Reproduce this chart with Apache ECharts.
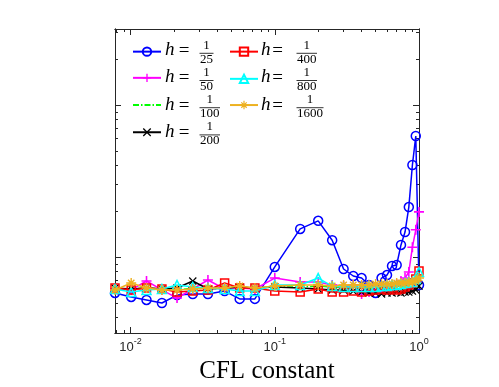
<!DOCTYPE html>
<html><head><meta charset="utf-8">
<script src="https://cdn.jsdelivr.net/npm/echarts@6/dist/echarts.min.js"></script>
<style>html,body{margin:0;padding:0;background:#fff}#c{width:499px;height:387px}</style>
</head><body><div id="c"></div>
<script>
// ---- data ----
const cfl = [0.0078, 0.0101, 0.0129, 0.0165, 0.021, 0.027, 0.0344, 0.0449, 0.0571, 0.0728, 0.1, 0.15, 0.2, 0.25, 0.3, 0.35, 0.4, 0.45, 0.5, 0.55, 0.6, 0.65, 0.7, 0.75, 0.8, 0.85, 0.9, 0.95, 1.0];
const h25 = [0.580, 0.546, 0.522, 0.498, 0.562, 0.571, 0.571, 0.597, 0.530, 0.530, 0.860, 1.53, 1.73, 1.29, 0.834, 0.750, 0.727, 0.654, 0.580, 0.727, 0.761, 0.873, 0.886, 1.20, 1.46, 2.13, 4.03, 6.25, 0.654];
const h50 = [0.616, 0.607, 0.695, 0.607, 0.537, 0.616, 0.706, 0.616, 0.625, 0.616, 0.727, 0.685, 0.685, 0.654, 0.644, 0.654, 0.571, 0.588, 0.607, 0.607, 0.616, 0.635, 0.664, 0.695, 0.727, 0.797, 1.16, 1.51, 1.98];
const h100 = [0.607, 0.616, 0.625, 0.616, 0.607, 0.625, 0.616, 0.625, 0.635, 0.625, 0.635, 0.635, 0.644, 0.635, 0.625, 0.625, 0.625, 0.616, 0.625, 0.625, 0.635, 0.635, 0.635, 0.644, 0.644, 0.654, 0.664, 0.675, 0.706];
const h200 = [0.625, 0.616, 0.625, 0.616, 0.625, 0.695, 0.616, 0.625, 0.635, 0.625, 0.635, 0.625, 0.616, 0.607, 0.607, 0.597, 0.588, 0.580, 0.580, 0.571, 0.580, 0.580, 0.588, 0.580, 0.588, 0.588, 0.597, 0.607, 0.644];
const h400 = [0.625, 0.607, 0.625, 0.616, 0.588, 0.597, 0.607, 0.675, 0.625, 0.625, 0.597, 0.588, 0.616, 0.588, 0.588, 0.597, 0.588, 0.597, 0.607, 0.616, 0.607, 0.625, 0.607, 0.616, 0.635, 0.654, 0.675, 0.717, 0.809];
const h800 = [0.616, 0.588, 0.607, 0.616, 0.654, 0.635, 0.625, 0.616, 0.597, 0.597, 0.654, 0.654, 0.727, 0.644, 0.635, 0.635, 0.635, 0.635, 0.635, 0.644, 0.644, 0.654, 0.654, 0.664, 0.675, 0.685, 0.685, 0.717, 0.797];
const h1600 = [0.607, 0.675, 0.625, 0.607, 0.607, 0.616, 0.625, 0.625, 0.644, 0.625, 0.644, 0.654, 0.654, 0.644, 0.654, 0.654, 0.654, 0.654, 0.664, 0.664, 0.664, 0.664, 0.675, 0.675, 0.675, 0.685, 0.685, 0.695, 0.727];
const denominators = ['25', '50', '100', '200', '400', '800', '1600'];
const xMajorTicks = [0.01, 0.1, 1];
const xMinorTicks = [0.008, 0.009, 0.02, 0.03, 0.04, 0.05, 0.06, 0.07, 0.08, 0.09, 0.2, 0.3, 0.4, 0.5, 0.6, 0.7, 0.8, 0.9];
const yMajorTicks = [1, 10];
const yMinorTicks = [0.4, 0.5, 0.6, 0.7, 0.8, 0.9, 2, 3, 4, 5, 6, 7, 8, 9, 20, 30];
const X_MIN = 0.0078, X_MAX = 1;
const Y_MIN = Math.pow(10, -0.5), Y_MAX = Math.pow(10, 1.5);

// ---- styles ----
const L10 = Math.log10;
const AX = '#262626';
const PLUS = 'path://M4.2,0 h1.6 v4.2 h4.2 v1.6 h-4.2 v4.2 h-1.6 v-4.2 h-4.2 v-1.6 h4.2 z';
const CROSS = 'path://M0,1.1 L1.1,0 L5,3.9 L8.9,0 L10,1.1 L6.1,5 L10,8.9 L8.9,10 L5,6.1 L1.1,10 L0,8.9 L3.9,5 Z';
const STAR = 'path://M4.3,0 h1.4 v4.3 h4.3 v1.4 h-4.3 v4.3 h-1.4 v-4.3 h-4.3 v-1.4 h4.3 z M1.3,2.3 L2.3,1.3 L5,4 L7.7,1.3 L8.7,2.3 L6,5 L8.7,7.7 L7.7,8.7 L5,6 L2.3,8.7 L1.3,7.7 L4,5 Z';
const TRANSP = 'rgba(0,0,0,0)';
const seriesDefs = [
  {data: h25, color: '#0000FF', symbol: 'circle', size: 9, hollow: true},
  {data: h50, color: '#FF00FF', symbol: PLUS, size: 10, hollow: false},
  {data: h100, color: '#00FF00', symbol: 'none', size: 0, hollow: false, dash: [6, 2, 1.5, 2]},
  {data: h200, color: '#000000', symbol: CROSS, size: 8, hollow: false},
  {data: h400, color: '#FF0000', symbol: 'rect', size: 8, hollow: true},
  {data: h800, color: '#00FFFF', symbol: 'triangle', size: 9, hollow: true},
  {data: h1600, color: '#EDB120', symbol: STAR, size: 10, hollow: false}
];
const names = denominators.map(d => 'h = 1/' + d);

const series = seriesDefs.map((s, i) => ({
  name: names[i], type: 'line', xAxisIndex: 0, yAxisIndex: 0,
  data: cfl.map((c, k) => [c, s.data[k]]),
  symbol: s.symbol, symbolSize: s.size, showSymbol: s.symbol !== 'none',
  color: s.color,
  lineStyle: {color: s.color, width: 1.5, type: s.dash || 'solid'},
  itemStyle: s.hollow ? {color: TRANSP, borderColor: s.color, borderWidth: 1.5} : {color: s.color, borderWidth: 0},
  emphasis: {disabled: true}, animation: false, z: 3 + i
}));

function valAxis(pos, min, max, ticks, len) {
  return {
    type: 'value', position: pos, min: min, max: max,
    axisLine: {show: true, onZero: false, lineStyle: {color: AX, width: 1}},
    axisTick: {show: true, inside: true, length: len, customValues: ticks, lineStyle: {color: AX, width: 1}},
    axisLabel: {show: false}, splitLine: {show: false}, minorTick: {show: false}
  };
}
const xmin = L10(X_MIN), xmax = L10(X_MAX), ymin = L10(Y_MIN), ymax = L10(Y_MAX);
const xBottom = valAxis('bottom', xmin, xmax, xMajorTicks.map(L10), 6);
xBottom.axisLabel = {
  show: true, customValues: xMajorTicks.map(L10), margin: 4,
  formatter: v => '{b|10}{s|' + Math.round(v) + '}',
  rich: {
    b: {fontFamily: 'Liberation Sans', fontSize: 13, color: AX, padding: [4, 0, 0, 0]},
    s: {fontFamily: 'Liberation Sans', fontSize: 9, color: AX, verticalAlign: 'top'}
  }
};
xBottom.name = 'CFL constant';
xBottom.nameLocation = 'middle';
xBottom.nameGap = 15;
xBottom.nameTextStyle = {fontFamily: 'Liberation Serif', fontSize: 25, lineHeight: 14, color: '#000'};

// legend: one component per entry, laid out in two columns
const colIconLeft = [132, 229];
const rowY0 = 51.7, rowStep = 27.2;
const LEG_H = 10.5;
const legends = names.map((n, i) => {
  const col = i < 4 ? 0 : 1, row = i < 4 ? i : i - 4;
  const item = {name: n};
  if (seriesDefs[i].symbol === 'none') item.itemStyle = {color: TRANSP, borderWidth: 0, opacity: 0};
  return {
    data: [item], left: colIconLeft[col], top: rowY0 + row * rowStep - LEG_H / 2,
    itemWidth: 28, itemHeight: LEG_H, itemGap: 0, padding: 0,
    formatter: () => '', textStyle: {fontSize: 8, lineHeight: LEG_H}, selectedMode: false
  };
});

const option = {
  backgroundColor: '#fff',
  animation: false,
  grid: {left: 115, right: 80, top: 29, bottom: 54, containLabel: false, outerBoundsMode: 'none'},
  xAxis: [
    {type: 'log', min: X_MIN, max: X_MAX, show: false},
    xBottom,
    valAxis('bottom', xmin, xmax, xMinorTicks.map(L10), 3),
    valAxis('top', xmin, xmax, xMajorTicks.map(L10), 6),
    valAxis('top', xmin, xmax, xMinorTicks.map(L10), 3)
  ],
  yAxis: [
    {type: 'log', min: Y_MIN, max: Y_MAX, show: false},
    valAxis('left', ymin, ymax, yMajorTicks.map(L10), 6),
    valAxis('left', ymin, ymax, yMinorTicks.map(L10), 3),
    valAxis('right', ymin, ymax, yMajorTicks.map(L10), 6),
    valAxis('right', ymin, ymax, yMinorTicks.map(L10), 3)
  ],
  legend: legends,
  series: series
};

// legend text (h = 1/N) as real text drawn with graphic elements
const ctx = document.createElement('canvas').getContext('2d');
const FRAC_FONT = '13px "Liberation Serif"';
ctx.font = FRAC_FONT;
const cols = [{hX: 165, eqX: 184, fracLeft: 200}, {hX: 261, eqX: 277.5, fracLeft: 297}];
const graphics = [];
denominators.forEach((d, i) => {
  const col = i < 4 ? cols[0] : cols[1];
  const row = i < 4 ? i : i - 4;
  const yc = rowY0 + row * rowStep;
  const w = ctx.measureText(d).width;
  const cx = col.fracLeft + w / 2;
  graphics.push(
    {type: 'text', x: col.hX, y: yc - 1.5, style: {text: 'h', font: 'italic 19px "Liberation Serif"', fill: '#000', align: 'left', verticalAlign: 'middle'}},
    {type: 'text', x: col.eqX, y: yc - 0.5, style: {text: '=', font: '19px "Liberation Serif"', fill: '#000', align: 'center', verticalAlign: 'middle'}},
    {type: 'text', x: cx, y: yc - 6.5, style: {text: '1', font: FRAC_FONT, fill: '#000', align: 'center', verticalAlign: 'middle'}},
    {type: 'line', shape: {x1: col.fracLeft - 0.5, y1: yc + 1.6, x2: col.fracLeft + w + 0.5, y2: yc + 1.6}, style: {stroke: '#000', lineWidth: 0.8}},
    {type: 'text', x: cx, y: yc + 7.6, style: {text: d, font: FRAC_FONT, fill: '#000', align: 'center', verticalAlign: 'middle'}}
  );
});
option.graphic = graphics;

const chart = echarts.init(document.getElementById('c'), null, {renderer: 'canvas'});
chart.setOption(option);
</script>
</body></html>
